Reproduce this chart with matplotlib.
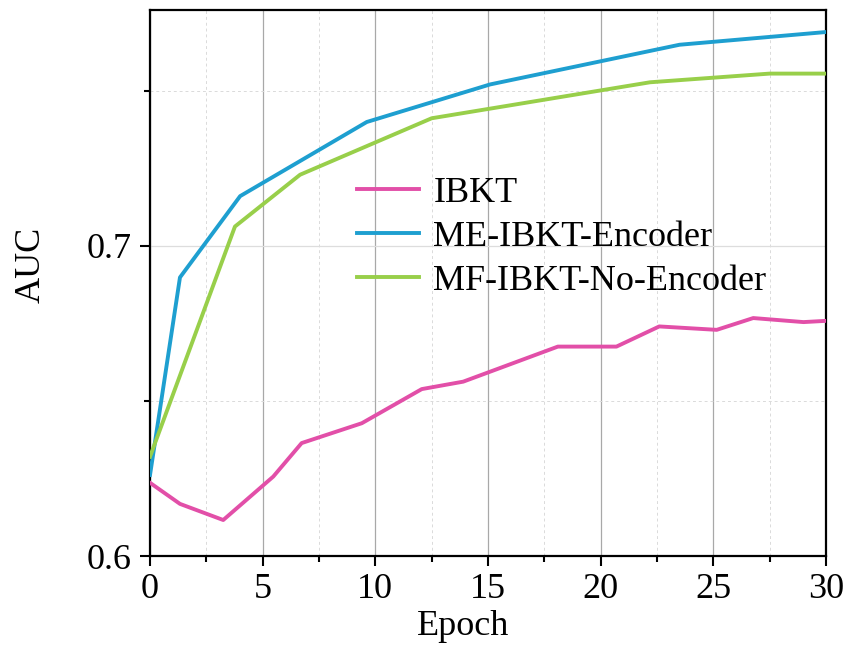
import numpy as np
import matplotlib.pyplot as plt
from matplotlib.ticker import MultipleLocator

plt.rcParams['font.family'] = ['Liberation Serif', 'DejaVu Serif']
plt.rcParams['mathtext.fontset'] = 'stix'

# values
ibkt_x = [0, 1.33, 3.25, 5.47, 6.73, 9.4, 12.06, 13.9, 18.1, 20.7, 22.6, 25.15, 26.77, 29.0, 30]
ibkt_y = [0.6236, 0.6168, 0.6116, 0.6256, 0.6364, 0.6428, 0.6538, 0.6562, 0.6675, 0.6675,
          0.6740, 0.6729, 0.6767, 0.6754, 0.6758]

enc_x = [0, 1.33, 4.0, 9.62, 15.09, 23.5, 30]
enc_y = [0.6261, 0.6898, 0.7160, 0.7399, 0.7520, 0.7648, 0.7689]

noenc_x = [0, 3.77, 6.66, 12.5, 22.19, 27.5, 30]
noenc_y = [0.6320, 0.7062, 0.7229, 0.7411, 0.7527, 0.7555, 0.7555]

labels = ['IBKT', 'ME-IBKT-Encoder', 'MF-IBKT-No-Encoder']
colors = ['#E24FA8', '#1E9FD0', '#98CF4A']

fig = plt.figure(figsize=(8.48, 6.45), dpi=100)
ax = fig.add_axes([150 / 848, 1 - 556 / 645, 676 / 848, 546 / 645])

ax.plot(ibkt_x, ibkt_y, color=colors[0], lw=2.8, label=labels[0], zorder=3)
ax.plot(enc_x, enc_y, color=colors[1], lw=2.8, label=labels[1], zorder=3)
ax.plot(noenc_x, noenc_y, color=colors[2], lw=2.8, label=labels[2], zorder=3)

ax.set_xlim(0, 30)
ax.set_ylim(0.6, 0.776)
ax.xaxis.set_major_locator(MultipleLocator(5))
ax.xaxis.set_minor_locator(MultipleLocator(2.5))
ax.yaxis.set_minor_locator(MultipleLocator(0.05))
ax.set_yticks([0.6, 0.7])
ax.set_yticklabels(['0.6', '0.7'])

ax.grid(True, axis='x', which='major', color='#a8a8a8', lw=0.9)
ax.grid(True, axis='y', which='major', color='#dddddd', lw=0.9)
ax.grid(True, which='minor', color='#dadada', lw=0.7, ls=(0, (3, 3)))
ax.set_axisbelow(True)

for s in ax.spines.values():
    s.set_linewidth(1.6)
ax.tick_params(which='major', direction='out', length=7, width=1.5, labelsize=26, pad=5)
ax.tick_params(axis='y', which='major', pad=6)
ax.tick_params(which='minor', direction='out', length=4, width=1.5)

ax.set_xlabel('Epoch', fontsize=26, labelpad=3)
ax.set_ylabel('AUC', fontsize=26, labelpad=28)
ax.xaxis.label.set_x(0.463)
ax.yaxis.label.set_y(0.533)

ax.legend(loc='upper left', bbox_to_anchor=(0.306, 0.695), frameon=False, fontsize=26,
          handlelength=1.72, handletextpad=0.4, labelspacing=0.3, borderpad=0,
          borderaxespad=0)

fig.savefig('out.png', dpi=100)
